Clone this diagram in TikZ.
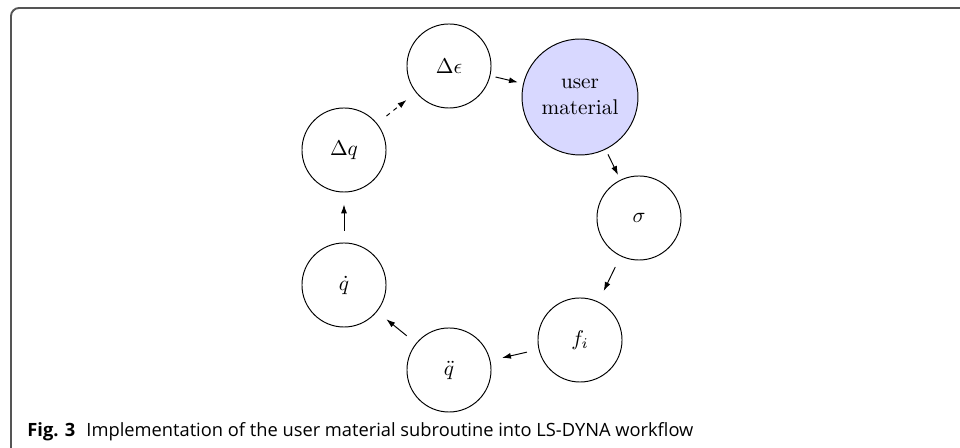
\documentclass[tikz,border=0pt]{standalone}
\usepackage{fontspec}
\newfontfamily\capfont{Open Sans}
\usetikzlibrary{arrows.meta}
\definecolor{umfill}{RGB}{216,216,255}
\definecolor{framegray}{RGB}{85,85,85}
\tikzset{
  state/.style={circle,draw=black,line width=0.45pt,minimum size=39.5pt,inner sep=0pt},
  umstate/.style={state,fill=umfill,minimum size=54.5pt,align=center},
  arr/.style={-{Latex[length=4.2pt,width=2.8pt]},line width=0.45pt,shorten <=5.6pt,shorten >=5.6pt},
  arrnear/.style={arr,shorten <=2.5pt,shorten >=2.5pt},
  dasharr/.style={arr,dash pattern=on 2pt off 2.2pt},
}
\begin{document}
\begin{tikzpicture}[x=0.47pt,y=-0.47pt]
\useasboundingbox (0,0) rectangle (960,448);
% frame
\draw[framegray,line width=0.9pt,rounded corners=3.8pt] (965,8) -- (11,8) -- (11,455);
% nodes
\node[state]   (de) at (449,66)  {$\Delta\epsilon$};
\node[umstate] (um) at (580,97)  {user\\material};
\node[state]   (sg) at (639,218) {$\sigma$};
\node[state]   (fi) at (580,340) {$f_i$};
\node[state]   (qdd) at (449,370) {$\ddot{q}$};
\node[state]   (qd) at (344,285) {$\dot{q}$};
\node[state]   (dq) at (344,150) {$\Delta q$};
% connectors
\draw[arrnear] (de) -- (um);
\draw[arrnear] (um) -- (sg);
\draw[arr] (sg) -- (fi);
\draw[arr] (fi) -- (qdd);
\draw[arr] (qdd) -- (qd);
\draw[arr] (qd) -- (dq);
\draw[dasharr] (dq) -- (de);
% caption
\node[anchor=base west,inner sep=0pt] (cap) at (27,437)
  {\resizebox{313pt}{!}{\capfont\fontsize{6.6}{8}\selectfont\textbf{Fig. 3}\hspace{4pt}Implementation of the user material subroutine into LS-DYNA workflow}};
\end{tikzpicture}
\end{document}
